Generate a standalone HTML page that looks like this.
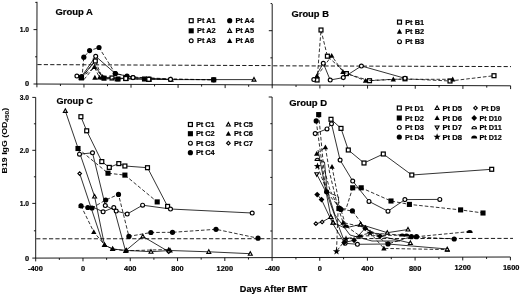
<!DOCTYPE html>
<html><head><meta charset="utf-8"><title>B19 IgG</title>
<style>
html,body{margin:0;padding:0;background:#fff;}
body{width:520px;height:294px;overflow:hidden;}
svg{display:block;filter:blur(0.4px);}
svg text{font-family:"Liberation Sans",sans-serif;font-weight:bold;fill:#000;stroke:#000;stroke-width:0.2px;}
</style></head><body>
<svg width="520" height="294" viewBox="0 0 520 294">
<rect width="520" height="294" fill="#fff"/>
<line x1="37.00" y1="1.80" x2="36.80" y2="84.00" stroke="#000" stroke-width="0.9" />
<line x1="272.20" y1="4.00" x2="272.20" y2="85.00" stroke="#000" stroke-width="0.9" />
<line x1="35.70" y1="97.40" x2="35.70" y2="258.10" stroke="#000" stroke-width="0.9" />
<line x1="272.10" y1="97.00" x2="272.10" y2="257.60" stroke="#000" stroke-width="0.9" />
<line x1="36.80" y1="84.00" x2="510.60" y2="85.80" stroke="#000" stroke-width="0.9" />
<line x1="35.70" y1="258.10" x2="272.10" y2="257.60" stroke="#000" stroke-width="0.9" />
<line x1="272.10" y1="257.60" x2="510.40" y2="257.00" stroke="#000" stroke-width="0.9" />
<line x1="33.50" y1="84.00" x2="36.90" y2="84.00" stroke="#000" stroke-width="0.9" />
<line x1="35.10" y1="56.80" x2="36.90" y2="56.80" stroke="#000" stroke-width="0.9" />
<line x1="33.50" y1="29.60" x2="36.90" y2="29.60" stroke="#000" stroke-width="0.9" />
<line x1="35.30" y1="2.40" x2="36.90" y2="2.40" stroke="#000" stroke-width="0.9" />
<line x1="270.40" y1="57.85" x2="272.20" y2="57.85" stroke="#000" stroke-width="0.9" />
<line x1="268.80" y1="30.70" x2="272.20" y2="30.70" stroke="#000" stroke-width="0.9" />
<line x1="270.60" y1="3.55" x2="272.20" y2="3.55" stroke="#000" stroke-width="0.9" />
<line x1="32.30" y1="258.10" x2="35.70" y2="258.10" stroke="#000" stroke-width="0.9" />
<line x1="33.90" y1="230.80" x2="35.70" y2="230.80" stroke="#000" stroke-width="0.9" />
<line x1="270.30" y1="231.00" x2="272.10" y2="231.00" stroke="#000" stroke-width="0.9" />
<line x1="32.30" y1="203.40" x2="35.70" y2="203.40" stroke="#000" stroke-width="0.9" />
<line x1="268.70" y1="204.50" x2="272.10" y2="204.50" stroke="#000" stroke-width="0.9" />
<line x1="33.90" y1="176.80" x2="35.70" y2="176.80" stroke="#000" stroke-width="0.9" />
<line x1="270.30" y1="177.40" x2="272.10" y2="177.40" stroke="#000" stroke-width="0.9" />
<line x1="32.30" y1="150.30" x2="35.70" y2="150.30" stroke="#000" stroke-width="0.9" />
<line x1="268.70" y1="150.30" x2="272.10" y2="150.30" stroke="#000" stroke-width="0.9" />
<line x1="33.90" y1="123.80" x2="35.70" y2="123.80" stroke="#000" stroke-width="0.9" />
<line x1="270.30" y1="123.70" x2="272.10" y2="123.70" stroke="#000" stroke-width="0.9" />
<line x1="32.30" y1="97.40" x2="35.70" y2="97.40" stroke="#000" stroke-width="0.9" />
<line x1="268.70" y1="97.00" x2="272.10" y2="97.00" stroke="#000" stroke-width="0.9" />
<line x1="36.90" y1="84.00" x2="36.90" y2="87.30" stroke="#000" stroke-width="0.9" />
<line x1="60.43" y1="84.10" x2="60.43" y2="86.00" stroke="#000" stroke-width="0.9" />
<line x1="83.96" y1="84.20" x2="83.96" y2="87.50" stroke="#000" stroke-width="0.9" />
<line x1="107.49" y1="84.30" x2="107.49" y2="86.20" stroke="#000" stroke-width="0.9" />
<line x1="131.02" y1="84.40" x2="131.02" y2="87.70" stroke="#000" stroke-width="0.9" />
<line x1="154.55" y1="84.50" x2="154.55" y2="86.40" stroke="#000" stroke-width="0.9" />
<line x1="178.08" y1="84.60" x2="178.08" y2="87.90" stroke="#000" stroke-width="0.9" />
<line x1="201.61" y1="84.70" x2="201.61" y2="86.60" stroke="#000" stroke-width="0.9" />
<line x1="225.14" y1="84.80" x2="225.14" y2="88.10" stroke="#000" stroke-width="0.9" />
<line x1="248.67" y1="84.90" x2="248.67" y2="86.80" stroke="#000" stroke-width="0.9" />
<line x1="272.20" y1="85.00" x2="272.20" y2="88.30" stroke="#000" stroke-width="0.9" />
<line x1="296.04" y1="85.08" x2="296.04" y2="86.98" stroke="#000" stroke-width="0.9" />
<line x1="319.88" y1="85.16" x2="319.88" y2="88.46" stroke="#000" stroke-width="0.9" />
<line x1="343.72" y1="85.24" x2="343.72" y2="87.14" stroke="#000" stroke-width="0.9" />
<line x1="367.56" y1="85.32" x2="367.56" y2="88.62" stroke="#000" stroke-width="0.9" />
<line x1="391.40" y1="85.40" x2="391.40" y2="87.30" stroke="#000" stroke-width="0.9" />
<line x1="415.24" y1="85.48" x2="415.24" y2="88.78" stroke="#000" stroke-width="0.9" />
<line x1="439.08" y1="85.56" x2="439.08" y2="87.46" stroke="#000" stroke-width="0.9" />
<line x1="462.92" y1="85.64" x2="462.92" y2="88.94" stroke="#000" stroke-width="0.9" />
<line x1="486.76" y1="85.72" x2="486.76" y2="87.62" stroke="#000" stroke-width="0.9" />
<line x1="510.60" y1="85.80" x2="510.60" y2="89.10" stroke="#000" stroke-width="0.9" />
<line x1="35.70" y1="258.10" x2="35.70" y2="261.40" stroke="#000" stroke-width="0.9" />
<line x1="59.34" y1="258.05" x2="59.34" y2="259.95" stroke="#000" stroke-width="0.9" />
<line x1="82.98" y1="258.00" x2="82.98" y2="261.30" stroke="#000" stroke-width="0.9" />
<line x1="106.62" y1="257.95" x2="106.62" y2="259.85" stroke="#000" stroke-width="0.9" />
<line x1="130.26" y1="257.90" x2="130.26" y2="261.20" stroke="#000" stroke-width="0.9" />
<line x1="153.90" y1="257.85" x2="153.90" y2="259.75" stroke="#000" stroke-width="0.9" />
<line x1="177.54" y1="257.80" x2="177.54" y2="261.10" stroke="#000" stroke-width="0.9" />
<line x1="201.18" y1="257.75" x2="201.18" y2="259.65" stroke="#000" stroke-width="0.9" />
<line x1="224.82" y1="257.70" x2="224.82" y2="261.00" stroke="#000" stroke-width="0.9" />
<line x1="248.46" y1="257.65" x2="248.46" y2="259.55" stroke="#000" stroke-width="0.9" />
<line x1="272.10" y1="257.60" x2="272.10" y2="260.90" stroke="#000" stroke-width="0.9" />
<line x1="295.93" y1="257.54" x2="295.93" y2="259.44" stroke="#000" stroke-width="0.9" />
<line x1="319.76" y1="257.48" x2="319.76" y2="260.78" stroke="#000" stroke-width="0.9" />
<line x1="343.59" y1="257.42" x2="343.59" y2="259.32" stroke="#000" stroke-width="0.9" />
<line x1="367.42" y1="257.36" x2="367.42" y2="260.66" stroke="#000" stroke-width="0.9" />
<line x1="391.25" y1="257.30" x2="391.25" y2="259.20" stroke="#000" stroke-width="0.9" />
<line x1="415.08" y1="257.24" x2="415.08" y2="260.54" stroke="#000" stroke-width="0.9" />
<line x1="438.91" y1="257.18" x2="438.91" y2="259.08" stroke="#000" stroke-width="0.9" />
<line x1="462.74" y1="257.12" x2="462.74" y2="260.42" stroke="#000" stroke-width="0.9" />
<line x1="486.57" y1="257.06" x2="486.57" y2="258.96" stroke="#000" stroke-width="0.9" />
<line x1="510.40" y1="257.00" x2="510.40" y2="260.30" stroke="#000" stroke-width="0.9" />
<line x1="37.4" y1="64.6" x2="270.5" y2="65.6" stroke="#000" stroke-width="0.9" stroke-dasharray="4.2 2.2"/>
<line x1="273.2" y1="65.8" x2="511" y2="66.6" stroke="#000" stroke-width="0.9" stroke-dasharray="4.2 2.2"/>
<line x1="36.2" y1="238.8" x2="270.3" y2="238.7" stroke="#000" stroke-width="0.9" stroke-dasharray="4.2 2.2"/>
<line x1="273.3" y1="238.7" x2="513" y2="238.4" stroke="#000" stroke-width="0.9" stroke-dasharray="4.2 2.2"/>
<text x="29.10" y="32.00" font-size="7.4" text-anchor="end" textLength="9.3" lengthAdjust="spacingAndGlyphs" >1.0</text>
<text x="29.10" y="86.40" font-size="7.4" text-anchor="end" >0</text>
<text x="29.10" y="99.80" font-size="7.4" text-anchor="end" textLength="9.3" lengthAdjust="spacingAndGlyphs" >3.0</text>
<text x="29.10" y="152.70" font-size="7.4" text-anchor="end" textLength="9.3" lengthAdjust="spacingAndGlyphs" >2.0</text>
<text x="29.10" y="205.80" font-size="7.4" text-anchor="end" textLength="9.3" lengthAdjust="spacingAndGlyphs" >1.0</text>
<text x="29.10" y="260.50" font-size="7.4" text-anchor="end" >0</text>
<text x="35.40" y="271.10" font-size="7.4" text-anchor="middle" >-400</text>
<text x="82.98" y="271.02" font-size="7.4" text-anchor="middle" >0</text>
<text x="130.26" y="270.94" font-size="7.4" text-anchor="middle" >400</text>
<text x="177.54" y="270.86" font-size="7.4" text-anchor="middle" >800</text>
<text x="224.82" y="270.78" font-size="7.4" text-anchor="middle" >1200</text>
<text x="272.60" y="270.80" font-size="7.4" text-anchor="middle" >-400</text>
<text x="319.76" y="270.70" font-size="7.4" text-anchor="middle" >0</text>
<text x="367.42" y="270.60" font-size="7.4" text-anchor="middle" >400</text>
<text x="415.08" y="270.50" font-size="7.4" text-anchor="middle" >800</text>
<text x="462.74" y="270.40" font-size="7.4" text-anchor="middle" >1200</text>
<text x="511.20" y="270.30" font-size="7.4" text-anchor="middle" >1600</text>
<text x="239.80" y="291.50" font-size="8.6" text-anchor="start" textLength="67.5" lengthAdjust="spacingAndGlyphs" >Days After BMT</text>
<text transform="translate(7.3,173.4) rotate(-90)" font-size="7.8" textLength="65.6" lengthAdjust="spacingAndGlyphs" style="stroke-width:0.05px">B19 IgG (OD<tspan font-size="5.8" dy="1.7">450</tspan><tspan dy="-1.7">)</tspan></text>
<text x="55.50" y="15.30" font-size="9.4" text-anchor="start" textLength="37.4" lengthAdjust="spacingAndGlyphs" >Group A</text>
<text x="291.50" y="17.30" font-size="9.4" text-anchor="start" textLength="37.4" lengthAdjust="spacingAndGlyphs" >Group B</text>
<text x="56.40" y="104.10" font-size="9.4" text-anchor="start" textLength="36.4" lengthAdjust="spacingAndGlyphs" >Group C</text>
<text x="289.20" y="105.50" font-size="9.4" text-anchor="start" textLength="37.9" lengthAdjust="spacingAndGlyphs" >Group D</text>
<rect x="189.25" y="18.75" width="3.9" height="3.9" fill="#fff" stroke="#000" stroke-width="1.25"/>
<text x="197.00" y="23.25" font-size="7" text-anchor="start" textLength="18.6" lengthAdjust="spacingAndGlyphs" >Pt A1</text>
<rect x="188.65" y="28.25" width="5.1" height="5.1" fill="#000"/>
<text x="197.00" y="33.35" font-size="7" text-anchor="start" textLength="18.6" lengthAdjust="spacingAndGlyphs" >Pt A2</text>
<circle cx="191.20" cy="40.80" r="1.95" fill="#fff" stroke="#000" stroke-width="1.15"/>
<text x="197.00" y="43.35" font-size="7" text-anchor="start" textLength="18.6" lengthAdjust="spacingAndGlyphs" >Pt A3</text>
<circle cx="229.70" cy="20.70" r="2.6" fill="#000"/>
<text x="235.40" y="23.25" font-size="7" text-anchor="start" textLength="18.6" lengthAdjust="spacingAndGlyphs" >Pt A4</text>
<polygon points="229.70,28.75 231.65,32.34 227.75,32.34" fill="#fff" stroke="#000" stroke-width="1.15" stroke-linejoin="miter"/>
<text x="235.40" y="33.35" font-size="7" text-anchor="start" textLength="18.6" lengthAdjust="spacingAndGlyphs" >Pt A5</text>
<polygon points="229.70,38.00 232.36,42.90 227.04,42.90" fill="#000"/>
<text x="235.40" y="43.35" font-size="7" text-anchor="start" textLength="18.6" lengthAdjust="spacingAndGlyphs" >Pt A6</text>
<rect x="397.55" y="20.15" width="3.9" height="3.9" fill="#fff" stroke="#000" stroke-width="1.25"/>
<text x="405.20" y="24.65" font-size="7" text-anchor="start" textLength="18.9" lengthAdjust="spacingAndGlyphs" >Pt B1</text>
<polygon points="399.50,28.80 402.16,33.70 396.84,33.70" fill="#000"/>
<text x="405.20" y="34.15" font-size="7" text-anchor="start" textLength="18.9" lengthAdjust="spacingAndGlyphs" >Pt B2</text>
<circle cx="399.50" cy="41.70" r="1.95" fill="#fff" stroke="#000" stroke-width="1.15"/>
<text x="405.20" y="44.25" font-size="7" text-anchor="start" textLength="18.9" lengthAdjust="spacingAndGlyphs" >Pt B3</text>
<rect x="188.45" y="122.55" width="3.9" height="3.9" fill="#fff" stroke="#000" stroke-width="1.25"/>
<text x="195.90" y="127.05" font-size="7" text-anchor="start" textLength="18.8" lengthAdjust="spacingAndGlyphs" >Pt C1</text>
<rect x="187.85" y="131.15" width="5.1" height="5.1" fill="#000"/>
<text x="195.90" y="136.25" font-size="7" text-anchor="start" textLength="18.8" lengthAdjust="spacingAndGlyphs" >Pt C2</text>
<circle cx="190.40" cy="143.20" r="1.95" fill="#fff" stroke="#000" stroke-width="1.15"/>
<text x="195.90" y="145.75" font-size="7" text-anchor="start" textLength="18.8" lengthAdjust="spacingAndGlyphs" >Pt C3</text>
<circle cx="190.40" cy="152.70" r="2.6" fill="#000"/>
<text x="195.90" y="155.25" font-size="7" text-anchor="start" textLength="18.8" lengthAdjust="spacingAndGlyphs" >Pt C4</text>
<polygon points="228.40,122.45 230.35,126.04 226.45,126.04" fill="#fff" stroke="#000" stroke-width="1.15" stroke-linejoin="miter"/>
<text x="234.00" y="127.05" font-size="7" text-anchor="start" textLength="19" lengthAdjust="spacingAndGlyphs" >Pt C5</text>
<polygon points="228.40,130.90 231.06,135.80 225.74,135.80" fill="#000"/>
<text x="234.00" y="136.25" font-size="7" text-anchor="start" textLength="19" lengthAdjust="spacingAndGlyphs" >Pt C6</text>
<polygon points="228.40,141.40 230.20,143.20 228.40,145.00 226.60,143.20" fill="#fff" stroke="#000" stroke-width="1.15" stroke-linejoin="miter"/>
<text x="234.00" y="145.75" font-size="7" text-anchor="start" textLength="19" lengthAdjust="spacingAndGlyphs" >Pt C7</text>
<rect x="397.35" y="106.05" width="3.9" height="3.9" fill="#fff" stroke="#000" stroke-width="1.25"/>
<text x="405.00" y="110.55" font-size="7" text-anchor="start" textLength="18.8" lengthAdjust="spacingAndGlyphs" >Pt D1</text>
<rect x="396.75" y="115.45" width="5.1" height="5.1" fill="#000"/>
<text x="405.00" y="120.55" font-size="7" text-anchor="start" textLength="18.8" lengthAdjust="spacingAndGlyphs" >Pt D2</text>
<circle cx="399.30" cy="127.50" r="1.95" fill="#fff" stroke="#000" stroke-width="1.15"/>
<text x="405.00" y="130.05" font-size="7" text-anchor="start" textLength="18.8" lengthAdjust="spacingAndGlyphs" >Pt D3</text>
<circle cx="399.30" cy="137.00" r="2.6" fill="#000"/>
<text x="405.00" y="139.55" font-size="7" text-anchor="start" textLength="18.8" lengthAdjust="spacingAndGlyphs" >Pt D4</text>
<polygon points="437.10,105.95 439.05,109.54 435.15,109.54" fill="#fff" stroke="#000" stroke-width="1.15" stroke-linejoin="miter"/>
<text x="442.50" y="110.55" font-size="7" text-anchor="start" textLength="19.5" lengthAdjust="spacingAndGlyphs" >Pt D5</text>
<polygon points="437.10,115.20 439.76,120.10 434.44,120.10" fill="#000"/>
<text x="442.50" y="120.55" font-size="7" text-anchor="start" textLength="19.5" lengthAdjust="spacingAndGlyphs" >Pt D6</text>
<polygon points="437.10,129.55 439.05,125.96 435.15,125.96" fill="#fff" stroke="#000" stroke-width="1.15" stroke-linejoin="miter"/>
<text x="442.50" y="130.05" font-size="7" text-anchor="start" textLength="19.5" lengthAdjust="spacingAndGlyphs" >Pt D7</text>
<polygon points="437.10,133.20 438.01,135.75 440.71,135.83 438.57,137.48 439.33,140.07 437.10,138.55 434.87,140.07 435.63,137.48 433.49,135.83 436.19,135.75" fill="#000"/>
<text x="442.50" y="139.55" font-size="7" text-anchor="start" textLength="19.5" lengthAdjust="spacingAndGlyphs" >Pt D8</text>
<polygon points="475.50,106.20 477.30,108.00 475.50,109.80 473.70,108.00" fill="#fff" stroke="#000" stroke-width="1.15" stroke-linejoin="miter"/>
<text x="481.20" y="110.55" font-size="7" text-anchor="start" textLength="18.8" lengthAdjust="spacingAndGlyphs" >Pt D9</text>
<polygon points="474.20,115.10 477.10,118.00 474.20,120.90 471.30,118.00" fill="#000"/>
<text x="479.50" y="120.55" font-size="7" text-anchor="start" textLength="22.3" lengthAdjust="spacingAndGlyphs" >Pt D10</text>
<path d="M472.00,128.70 A2.2,2.2 0 0 1 476.40,128.70 Z" fill="#fff" stroke="#000" stroke-width="1.15" stroke-linejoin="miter"/>
<text x="479.50" y="130.05" font-size="7" text-anchor="start" textLength="22.3" lengthAdjust="spacingAndGlyphs" >Pt D11</text>
<path d="M471.20,138.40 A3.0,3.0 0 0 1 477.20,138.40 Z" fill="#000"/>
<text x="479.50" y="139.55" font-size="7" text-anchor="start" textLength="22.3" lengthAdjust="spacingAndGlyphs" >Pt D12</text>
<polyline points="81.5,77.5 93.5,63.0 102.5,77.3 126.0,78.5 149.0,79.3 171.0,79.6 254.0,79.6" fill="none" stroke="#000" stroke-width="0.8" stroke-linejoin="round"/>
<polygon points="81.50,75.45 83.45,79.04 79.55,79.04" fill="#fff" stroke="#000" stroke-width="1.15" stroke-linejoin="miter"/>
<polygon points="102.50,75.25 104.45,78.84 100.55,78.84" fill="#fff" stroke="#000" stroke-width="1.15" stroke-linejoin="miter"/>
<polygon points="126.00,76.45 127.95,80.04 124.05,80.04" fill="#fff" stroke="#000" stroke-width="1.15" stroke-linejoin="miter"/>
<polygon points="149.00,77.25 150.95,80.84 147.05,80.84" fill="#fff" stroke="#000" stroke-width="1.15" stroke-linejoin="miter"/>
<polygon points="171.00,77.55 172.95,81.14 169.05,81.14" fill="#fff" stroke="#000" stroke-width="1.15" stroke-linejoin="miter"/>
<polygon points="254.00,77.55 255.95,81.14 252.05,81.14" fill="#fff" stroke="#000" stroke-width="1.15" stroke-linejoin="miter"/>
<polyline points="81.5,77.8 95.3,61.0 101.5,75.5 112.0,78.0 125.8,78.5 148.8,79.3" fill="none" stroke="#000" stroke-width="0.8" stroke-dasharray="3.6 2" stroke-linejoin="round"/>
<rect x="79.55" y="75.85" width="3.9" height="3.9" fill="#fff" stroke="#000" stroke-width="1.25"/>
<rect x="93.35" y="59.05" width="3.9" height="3.9" fill="#fff" stroke="#000" stroke-width="1.25"/>
<rect x="110.05" y="76.05" width="3.9" height="3.9" fill="#fff" stroke="#000" stroke-width="1.25"/>
<rect x="123.85" y="76.55" width="3.9" height="3.9" fill="#fff" stroke="#000" stroke-width="1.25"/>
<rect x="146.85" y="77.35" width="3.9" height="3.9" fill="#fff" stroke="#000" stroke-width="1.25"/>
<polyline points="76.9,76.0 81.5,76.6 95.7,56.3 115.3,73.5 133.0,77.5 170.5,79.3" fill="none" stroke="#000" stroke-width="0.8" stroke-linejoin="round"/>
<circle cx="76.90" cy="76.00" r="1.95" fill="#fff" stroke="#000" stroke-width="1.15"/>
<circle cx="81.50" cy="76.60" r="1.95" fill="#fff" stroke="#000" stroke-width="1.15"/>
<circle cx="95.70" cy="56.30" r="1.95" fill="#fff" stroke="#000" stroke-width="1.15"/>
<circle cx="115.30" cy="73.50" r="1.95" fill="#fff" stroke="#000" stroke-width="1.15"/>
<circle cx="133.00" cy="77.50" r="1.95" fill="#fff" stroke="#000" stroke-width="1.15"/>
<circle cx="170.50" cy="79.30" r="1.95" fill="#fff" stroke="#000" stroke-width="1.15"/>
<polyline points="82.0,78.0 83.8,57.2 89.6,50.6 99.0,47.5 115.3,73.5 127.0,76.0 137.0,77.3 172.0,79.0 213.7,79.8" fill="none" stroke="#000" stroke-width="0.8" stroke-dasharray="3.6 2" stroke-linejoin="round"/>
<circle cx="83.80" cy="57.20" r="2.6" fill="#000"/>
<circle cx="89.60" cy="50.60" r="2.6" fill="#000"/>
<circle cx="99.00" cy="47.50" r="2.6" fill="#000"/>
<circle cx="115.30" cy="73.50" r="2.6" fill="#000"/>
<circle cx="127.00" cy="76.00" r="2.6" fill="#000"/>
<circle cx="213.70" cy="79.80" r="2.6" fill="#000"/>
<polyline points="81.2,77.6 94.3,67.5 104.0,78.2 118.0,79.0 144.5,79.0 213.7,79.8" fill="none" stroke="#000" stroke-width="0.8" stroke-dasharray="3.6 2" stroke-linejoin="round"/>
<rect x="78.65" y="75.05" width="5.1" height="5.1" fill="#000"/>
<rect x="101.45" y="75.65" width="5.1" height="5.1" fill="#000"/>
<rect x="115.45" y="76.45" width="5.1" height="5.1" fill="#000"/>
<rect x="141.95" y="76.45" width="5.1" height="5.1" fill="#000"/>
<rect x="211.15" y="77.25" width="5.1" height="5.1" fill="#000"/>
<polyline points="84.0,79.5 94.3,67.0 99.5,77.5 108.0,79.0 117.0,79.2" fill="none" stroke="#000" stroke-width="0.8" stroke-dasharray="3.6 2" stroke-linejoin="round"/>
<polygon points="94.30,64.20 96.96,69.10 91.64,69.10" fill="#000"/>
<polygon points="99.50,74.70 102.16,79.60 96.84,79.60" fill="#000"/>
<polygon points="117.00,76.40 119.66,81.30 114.34,81.30" fill="#000"/>
<polygon points="94.90,74.80 97.56,79.70 92.24,79.70" fill="#000"/>
<circle cx="170.50" cy="79.40" r="1.95" fill="#fff" stroke="#000" stroke-width="1.15"/>
<circle cx="133.00" cy="77.60" r="1.95" fill="#fff" stroke="#000" stroke-width="1.15"/>
<rect x="123.85" y="76.55" width="3.9" height="3.9" fill="#fff" stroke="#000" stroke-width="1.25"/>
<rect x="146.85" y="77.35" width="3.9" height="3.9" fill="#fff" stroke="#000" stroke-width="1.25"/>
<polyline points="317.1,80.0 321.0,30.0 327.4,56.2 346.4,73.6 369.5,80.7 405.0,78.8 450.0,81.0 494.0,75.7" fill="none" stroke="#000" stroke-width="0.8" stroke-dasharray="3.6 2" stroke-linejoin="round"/>
<rect x="315.15" y="78.05" width="3.9" height="3.9" fill="#fff" stroke="#000" stroke-width="1.25"/>
<rect x="319.05" y="28.05" width="3.9" height="3.9" fill="#fff" stroke="#000" stroke-width="1.25"/>
<rect x="325.45" y="54.25" width="3.9" height="3.9" fill="#fff" stroke="#000" stroke-width="1.25"/>
<rect x="344.45" y="71.65" width="3.9" height="3.9" fill="#fff" stroke="#000" stroke-width="1.25"/>
<rect x="367.55" y="78.75" width="3.9" height="3.9" fill="#fff" stroke="#000" stroke-width="1.25"/>
<rect x="403.05" y="76.85" width="3.9" height="3.9" fill="#fff" stroke="#000" stroke-width="1.25"/>
<rect x="448.05" y="79.05" width="3.9" height="3.9" fill="#fff" stroke="#000" stroke-width="1.25"/>
<rect x="492.05" y="73.75" width="3.9" height="3.9" fill="#fff" stroke="#000" stroke-width="1.25"/>
<polyline points="317.1,76.0 331.7,55.7 342.9,71.9 365.5,80.7 393.3,79.3 452.7,79.3" fill="none" stroke="#000" stroke-width="0.8" stroke-dasharray="3.6 2" stroke-linejoin="round"/>
<polygon points="317.10,73.20 319.76,78.10 314.44,78.10" fill="#000"/>
<polygon points="331.70,52.90 334.36,57.80 329.04,57.80" fill="#000"/>
<polygon points="342.90,69.10 345.56,74.00 340.24,74.00" fill="#000"/>
<polygon points="365.50,77.90 368.16,82.80 362.84,82.80" fill="#000"/>
<polygon points="393.30,76.50 395.96,81.40 390.64,81.40" fill="#000"/>
<polygon points="452.70,76.50 455.36,81.40 450.04,81.40" fill="#000"/>
<polyline points="313.8,79.5 323.3,63.3 330.2,80.0 343.3,77.6 361.4,66.0 405.0,78.3" fill="none" stroke="#000" stroke-width="0.8" stroke-linejoin="round"/>
<circle cx="313.80" cy="79.50" r="1.95" fill="#fff" stroke="#000" stroke-width="1.15"/>
<circle cx="323.30" cy="63.30" r="1.95" fill="#fff" stroke="#000" stroke-width="1.15"/>
<circle cx="330.20" cy="80.00" r="1.95" fill="#fff" stroke="#000" stroke-width="1.15"/>
<circle cx="343.30" cy="77.60" r="1.95" fill="#fff" stroke="#000" stroke-width="1.15"/>
<circle cx="361.40" cy="66.00" r="1.95" fill="#fff" stroke="#000" stroke-width="1.15"/>
<circle cx="405.00" cy="78.30" r="1.95" fill="#fff" stroke="#000" stroke-width="1.15"/>
<polyline points="65.3,110.9 94.6,196.5 104.5,245.0 112.7,249.0 126.3,250.4 151.0,251.7 170.0,250.5 208.8,251.8 250.3,253.7" fill="none" stroke="#000" stroke-width="0.8" stroke-linejoin="round"/>
<polygon points="65.30,108.85 67.25,112.44 63.35,112.44" fill="#fff" stroke="#000" stroke-width="1.15" stroke-linejoin="miter"/>
<polygon points="94.60,194.45 96.55,198.04 92.65,198.04" fill="#fff" stroke="#000" stroke-width="1.15" stroke-linejoin="miter"/>
<polygon points="104.50,242.95 106.45,246.54 102.55,246.54" fill="#fff" stroke="#000" stroke-width="1.15" stroke-linejoin="miter"/>
<polygon points="112.70,246.95 114.65,250.54 110.75,250.54" fill="#fff" stroke="#000" stroke-width="1.15" stroke-linejoin="miter"/>
<polygon points="126.30,248.35 128.25,251.94 124.35,251.94" fill="#fff" stroke="#000" stroke-width="1.15" stroke-linejoin="miter"/>
<polygon points="151.00,249.65 152.95,253.24 149.05,253.24" fill="#fff" stroke="#000" stroke-width="1.15" stroke-linejoin="miter"/>
<polygon points="170.00,248.45 171.95,252.04 168.05,252.04" fill="#fff" stroke="#000" stroke-width="1.15" stroke-linejoin="miter"/>
<polygon points="208.80,249.75 210.75,253.34 206.85,253.34" fill="#fff" stroke="#000" stroke-width="1.15" stroke-linejoin="miter"/>
<polygon points="250.30,251.65 252.25,255.24 248.35,255.24" fill="#fff" stroke="#000" stroke-width="1.15" stroke-linejoin="miter"/>
<polyline points="79.7,173.6 102.8,243.0" fill="none" stroke="#000" stroke-width="0.8" stroke-linejoin="round"/>
<polygon points="79.70,171.80 81.50,173.60 79.70,175.40 77.90,173.60" fill="#fff" stroke="#000" stroke-width="1.15" stroke-linejoin="miter"/>
<polyline points="92.7,207.0 103.1,211.8 113.8,207.5 125.5,250.8 142.8,236.4 168.7,251.7" fill="none" stroke="#000" stroke-width="0.8" stroke-linejoin="round"/>
<polygon points="168.70,249.90 170.50,251.70 168.70,253.50 166.90,251.70" fill="#fff" stroke="#000" stroke-width="1.15" stroke-linejoin="miter"/>
<circle cx="103.10" cy="211.80" r="1.95" fill="#fff" stroke="#000" stroke-width="1.15"/>
<circle cx="113.80" cy="207.50" r="1.95" fill="#fff" stroke="#000" stroke-width="1.15"/>
<polygon points="142.80,234.35 144.75,237.94 140.85,237.94" fill="#fff" stroke="#000" stroke-width="1.15" stroke-linejoin="miter"/>
<polyline points="80.9,116.7 86.7,130.8 101.8,161.6 109.3,167.4 118.8,163.6 124.9,166.0 147.5,167.7 167.6,206.4" fill="none" stroke="#000" stroke-width="0.8" stroke-linejoin="round"/>
<rect x="78.95" y="114.75" width="3.9" height="3.9" fill="#fff" stroke="#000" stroke-width="1.25"/>
<rect x="84.75" y="128.85" width="3.9" height="3.9" fill="#fff" stroke="#000" stroke-width="1.25"/>
<rect x="99.85" y="159.65" width="3.9" height="3.9" fill="#fff" stroke="#000" stroke-width="1.25"/>
<rect x="107.35" y="165.45" width="3.9" height="3.9" fill="#fff" stroke="#000" stroke-width="1.25"/>
<rect x="116.85" y="161.65" width="3.9" height="3.9" fill="#fff" stroke="#000" stroke-width="1.25"/>
<rect x="122.95" y="164.05" width="3.9" height="3.9" fill="#fff" stroke="#000" stroke-width="1.25"/>
<rect x="145.55" y="165.75" width="3.9" height="3.9" fill="#fff" stroke="#000" stroke-width="1.25"/>
<rect x="165.65" y="204.45" width="3.9" height="3.9" fill="#fff" stroke="#000" stroke-width="1.25"/>
<polyline points="78.0,148.5 108.0,173.2 124.9,175.1 157.2,201.9" fill="none" stroke="#000" stroke-width="0.8" stroke-dasharray="3.6 2" stroke-linejoin="round"/>
<rect x="75.45" y="145.95" width="5.1" height="5.1" fill="#000"/>
<rect x="105.45" y="170.65" width="5.1" height="5.1" fill="#000"/>
<rect x="122.35" y="172.55" width="5.1" height="5.1" fill="#000"/>
<rect x="154.65" y="199.35" width="5.1" height="5.1" fill="#000"/>
<polyline points="79.5,154.2 92.5,152.8 105.3,205.5 116.2,211.0 127.2,214.0 142.6,205.2 170.5,209.0 252.2,213.0" fill="none" stroke="#000" stroke-width="0.8" stroke-linejoin="round"/>
<circle cx="79.50" cy="154.20" r="1.95" fill="#fff" stroke="#000" stroke-width="1.15"/>
<circle cx="92.50" cy="152.80" r="1.95" fill="#fff" stroke="#000" stroke-width="1.15"/>
<circle cx="105.30" cy="205.50" r="1.95" fill="#fff" stroke="#000" stroke-width="1.15"/>
<circle cx="116.20" cy="211.00" r="1.95" fill="#fff" stroke="#000" stroke-width="1.15"/>
<circle cx="127.20" cy="214.00" r="1.95" fill="#fff" stroke="#000" stroke-width="1.15"/>
<circle cx="142.60" cy="205.20" r="1.95" fill="#fff" stroke="#000" stroke-width="1.15"/>
<circle cx="170.50" cy="209.00" r="1.95" fill="#fff" stroke="#000" stroke-width="1.15"/>
<circle cx="252.20" cy="213.00" r="1.95" fill="#fff" stroke="#000" stroke-width="1.15"/>
<polyline points="81.0,205.8 93.8,232.0 104.7,245.0 112.5,249.0 125.5,250.8 168.7,249.5" fill="none" stroke="#000" stroke-width="0.8" stroke-dasharray="3.6 2" stroke-linejoin="round"/>
<polygon points="81.00,203.00 83.66,207.90 78.34,207.90" fill="#000"/>
<polygon points="93.80,229.20 96.46,234.10 91.14,234.10" fill="#000"/>
<polygon points="104.70,242.20 107.36,247.10 102.04,247.10" fill="#000"/>
<polygon points="112.50,246.20 115.16,251.10 109.84,251.10" fill="#000"/>
<polygon points="125.50,248.00 128.16,252.90 122.84,252.90" fill="#000"/>
<polygon points="168.70,246.70 171.36,251.60 166.04,251.60" fill="#000"/>
<polyline points="81.0,205.8 87.8,207.5 92.0,208.0 105.7,200.0 118.5,194.4 128.9,236.4 150.9,232.5 172.5,232.3 216.0,229.3 258.0,238.2" fill="none" stroke="#000" stroke-width="0.8" stroke-dasharray="3.6 2" stroke-linejoin="round"/>
<circle cx="81.00" cy="205.80" r="2.6" fill="#000"/>
<circle cx="87.80" cy="207.50" r="2.6" fill="#000"/>
<circle cx="92.00" cy="208.00" r="2.6" fill="#000"/>
<circle cx="105.70" cy="200.00" r="2.6" fill="#000"/>
<circle cx="118.50" cy="194.40" r="2.6" fill="#000"/>
<circle cx="128.90" cy="236.40" r="2.6" fill="#000"/>
<circle cx="150.90" cy="232.50" r="2.6" fill="#000"/>
<circle cx="172.50" cy="232.30" r="2.6" fill="#000"/>
<circle cx="216.00" cy="229.30" r="2.6" fill="#000"/>
<circle cx="258.00" cy="238.20" r="2.6" fill="#000"/>
<polyline points="331.0,119.3 341.0,128.4 348.3,150.0 364.0,163.0 383.3,154.0 411.8,175.0 491.7,169.3" fill="none" stroke="#000" stroke-width="0.8" stroke-linejoin="round"/>
<rect x="329.05" y="117.35" width="3.9" height="3.9" fill="#fff" stroke="#000" stroke-width="1.25"/>
<rect x="339.05" y="126.45" width="3.9" height="3.9" fill="#fff" stroke="#000" stroke-width="1.25"/>
<rect x="346.35" y="148.05" width="3.9" height="3.9" fill="#fff" stroke="#000" stroke-width="1.25"/>
<rect x="362.05" y="161.05" width="3.9" height="3.9" fill="#fff" stroke="#000" stroke-width="1.25"/>
<rect x="381.35" y="152.05" width="3.9" height="3.9" fill="#fff" stroke="#000" stroke-width="1.25"/>
<rect x="409.85" y="173.05" width="3.9" height="3.9" fill="#fff" stroke="#000" stroke-width="1.25"/>
<rect x="489.75" y="167.35" width="3.9" height="3.9" fill="#fff" stroke="#000" stroke-width="1.25"/>
<polyline points="315.2,133.6 327.0,128.9 331.5,123.8 340.1,160.1 352.7,181.0 369.0,201.4 388.0,211.2 404.9,199.6 439.8,199.4" fill="none" stroke="#000" stroke-width="0.8" stroke-linejoin="round"/>
<circle cx="315.20" cy="133.60" r="1.95" fill="#fff" stroke="#000" stroke-width="1.15"/>
<circle cx="327.00" cy="128.90" r="1.95" fill="#fff" stroke="#000" stroke-width="1.15"/>
<circle cx="331.50" cy="123.80" r="1.95" fill="#fff" stroke="#000" stroke-width="1.15"/>
<circle cx="340.10" cy="160.10" r="1.95" fill="#fff" stroke="#000" stroke-width="1.15"/>
<circle cx="352.70" cy="181.00" r="1.95" fill="#fff" stroke="#000" stroke-width="1.15"/>
<circle cx="369.00" cy="201.40" r="1.95" fill="#fff" stroke="#000" stroke-width="1.15"/>
<circle cx="388.00" cy="211.20" r="1.95" fill="#fff" stroke="#000" stroke-width="1.15"/>
<circle cx="404.90" cy="199.60" r="1.95" fill="#fff" stroke="#000" stroke-width="1.15"/>
<circle cx="439.80" cy="199.40" r="1.95" fill="#fff" stroke="#000" stroke-width="1.15"/>
<polyline points="318.7,114.6 323.6,167.0 329.8,189.5 338.9,208.5 346.0,209.0 352.7,187.8 361.2,187.8 391.0,201.0 409.4,204.4 460.6,209.9 483.0,213.0" fill="none" stroke="#000" stroke-width="0.8" stroke-dasharray="3.6 2" stroke-linejoin="round"/>
<rect x="316.15" y="112.05" width="5.1" height="5.1" fill="#000"/>
<rect x="336.35" y="205.95" width="5.1" height="5.1" fill="#000"/>
<rect x="350.15" y="185.25" width="5.1" height="5.1" fill="#000"/>
<rect x="358.65" y="185.25" width="5.1" height="5.1" fill="#000"/>
<rect x="388.45" y="198.45" width="5.1" height="5.1" fill="#000"/>
<rect x="406.85" y="201.85" width="5.1" height="5.1" fill="#000"/>
<rect x="458.05" y="207.35" width="5.1" height="5.1" fill="#000"/>
<rect x="480.45" y="210.45" width="5.1" height="5.1" fill="#000"/>
<polyline points="316.2,120.9 322.4,167.0 326.6,191.8 340.9,209.4 352.4,210.9 365.0,228.0 388.0,243.9 411.4,236.7 454.2,239.0" fill="none" stroke="#000" stroke-width="0.8" stroke-dasharray="3.6 2" stroke-linejoin="round"/>
<circle cx="316.20" cy="120.90" r="2.6" fill="#000"/>
<circle cx="326.60" cy="191.80" r="2.6" fill="#000"/>
<circle cx="340.90" cy="209.40" r="2.6" fill="#000"/>
<circle cx="352.40" cy="210.90" r="2.6" fill="#000"/>
<circle cx="388.00" cy="243.90" r="2.6" fill="#000"/>
<circle cx="411.40" cy="236.70" r="2.6" fill="#000"/>
<circle cx="454.20" cy="239.00" r="2.6" fill="#000"/>
<polyline points="318.0,150.0 330.9,217.0 333.1,222.6 345.0,228.0 360.6,224.4 387.3,232.7 408.0,229.5" fill="none" stroke="#000" stroke-width="0.8" stroke-linejoin="round"/>
<polygon points="330.90,214.95 332.85,218.54 328.95,218.54" fill="#fff" stroke="#000" stroke-width="1.15" stroke-linejoin="miter"/>
<polygon points="333.10,220.55 335.05,224.14 331.15,224.14" fill="#fff" stroke="#000" stroke-width="1.15" stroke-linejoin="miter"/>
<polygon points="360.60,222.35 362.55,225.94 358.65,225.94" fill="#fff" stroke="#000" stroke-width="1.15" stroke-linejoin="miter"/>
<polygon points="387.30,230.65 389.25,234.24 385.35,234.24" fill="#fff" stroke="#000" stroke-width="1.15" stroke-linejoin="miter"/>
<polygon points="408.00,227.45 409.95,231.04 406.05,231.04" fill="#fff" stroke="#000" stroke-width="1.15" stroke-linejoin="miter"/>
<polyline points="316.7,153.7 325.4,147.2 329.5,172.0 337.3,205.0 343.1,222.6 365.5,227.6 383.9,248.4 447.5,249.6" fill="none" stroke="#000" stroke-width="0.8" stroke-dasharray="3.6 2" stroke-linejoin="round"/>
<polygon points="316.70,150.90 319.36,155.80 314.04,155.80" fill="#000"/>
<polygon points="325.40,144.40 328.06,149.30 322.74,149.30" fill="#000"/>
<polygon points="343.10,219.80 345.76,224.70 340.44,224.70" fill="#000"/>
<polygon points="365.50,224.80 368.16,229.70 362.84,229.70" fill="#000"/>
<polygon points="383.90,245.60 386.56,250.50 381.24,250.50" fill="#000"/>
<polygon points="447.50,246.80 450.16,251.70 444.84,251.70" fill="#000"/>
<polyline points="316.8,174.3 327.0,194.0 337.0,222.0 345.1,243.3 357.4,244.3 388.0,244.0 447.5,249.0" fill="none" stroke="#000" stroke-width="0.8" stroke-linejoin="round"/>
<polygon points="316.80,176.35 318.75,172.76 314.85,172.76" fill="#fff" stroke="#000" stroke-width="1.15" stroke-linejoin="miter"/>
<circle cx="345.10" cy="243.30" r="1.95" fill="#fff" stroke="#000" stroke-width="1.15"/>
<circle cx="357.40" cy="244.30" r="1.95" fill="#fff" stroke="#000" stroke-width="1.15"/>
<polygon points="447.20,247.25 449.15,250.84 445.25,250.84" fill="#fff" stroke="#000" stroke-width="1.15" stroke-linejoin="miter"/>
<polyline points="317.5,166.3 327.0,191.5 338.6,197.0 336.5,251.4 346.0,239.0 370.0,233.0 402.2,235.1" fill="none" stroke="#000" stroke-width="0.8" stroke-dasharray="3.6 2" stroke-linejoin="round"/>
<polygon points="317.50,162.50 318.41,165.05 321.11,165.13 318.97,166.78 319.73,169.37 317.50,167.85 315.27,169.37 316.03,166.78 313.89,165.13 316.59,165.05" fill="#000"/>
<polygon points="336.50,247.60 337.41,250.15 340.11,250.23 337.97,251.88 338.73,254.47 336.50,252.95 334.27,254.47 335.03,251.88 332.89,250.23 335.59,250.15" fill="#000"/>
<polygon points="346.00,235.20 346.91,237.75 349.61,237.83 347.47,239.48 348.23,242.07 346.00,240.55 343.77,242.07 344.53,239.48 342.39,237.83 345.09,237.75" fill="#000"/>
<polygon points="370.00,229.20 370.91,231.75 373.61,231.83 371.47,233.48 372.23,236.07 370.00,234.55 367.77,236.07 368.53,233.48 366.39,231.83 369.09,231.75" fill="#000"/>
<polyline points="315.9,223.7 322.1,222.0 330.9,217.0" fill="none" stroke="#000" stroke-width="0.8" stroke-linejoin="round"/>
<polygon points="315.90,221.90 317.70,223.70 315.90,225.50 314.10,223.70" fill="#fff" stroke="#000" stroke-width="1.15" stroke-linejoin="miter"/>
<polygon points="322.10,220.20 323.90,222.00 322.10,223.80 320.30,222.00" fill="#fff" stroke="#000" stroke-width="1.15" stroke-linejoin="miter"/>
<polyline points="317.2,194.6 321.5,199.6 333.0,224.0 344.2,242.5 354.1,240.3 365.2,228.3 380.0,236.0 410.4,243.0" fill="none" stroke="#000" stroke-width="0.8" stroke-linejoin="round"/>
<polygon points="317.20,191.70 320.10,194.60 317.20,197.50 314.30,194.60" fill="#000"/>
<polygon points="321.50,196.70 324.40,199.60 321.50,202.50 318.60,199.60" fill="#000"/>
<polygon points="344.20,239.60 347.10,242.50 344.20,245.40 341.30,242.50" fill="#000"/>
<polygon points="354.10,237.40 357.00,240.30 354.10,243.20 351.20,240.30" fill="#000"/>
<polygon points="365.20,225.40 368.10,228.30 365.20,231.20 362.30,228.30" fill="#000"/>
<polygon points="380.00,233.10 382.90,236.00 380.00,238.90 377.10,236.00" fill="#000"/>
<polyline points="317.3,159.2 324.5,162.0 327.0,190.0 335.0,215.0 350.0,235.0 372.0,241.0 400.0,241.0" fill="none" stroke="#000" stroke-width="0.8" stroke-linejoin="round"/>
<path d="M315.10,160.40 A2.2,2.2 0 0 1 319.50,160.40 Z" fill="#fff" stroke="#000" stroke-width="1.15" stroke-linejoin="miter"/>
<polyline points="332.0,166.7 339.7,206.0 346.0,226.0 360.0,236.0 402.2,235.1 406.5,235.1 416.5,236.7 469.7,231.6" fill="none" stroke="#000" stroke-width="0.8" stroke-dasharray="3.6 2" stroke-linejoin="round"/>
<path d="M343.00,227.40 A3.0,3.0 0 0 1 349.00,227.40 Z" fill="#000"/>
<path d="M357.00,237.40 A3.0,3.0 0 0 1 363.00,237.40 Z" fill="#000"/>
<path d="M399.20,236.50 A3.0,3.0 0 0 1 405.20,236.50 Z" fill="#000"/>
<path d="M403.50,236.50 A3.0,3.0 0 0 1 409.50,236.50 Z" fill="#000"/>
<path d="M466.70,233.00 A3.0,3.0 0 0 1 472.70,233.00 Z" fill="#000"/>
<polygon points="332.00,163.90 334.66,168.80 329.34,168.80" fill="#000"/>
<circle cx="416.50" cy="236.70" r="2.6" fill="#000"/>
<polygon points="410.40,240.95 412.35,244.54 408.45,244.54" fill="#fff" stroke="#000" stroke-width="1.15" stroke-linejoin="miter"/>
<polygon points="330.90,214.95 332.85,218.54 328.95,218.54" fill="#fff" stroke="#000" stroke-width="1.15" stroke-linejoin="miter"/>
<polygon points="333.10,220.55 335.05,224.14 331.15,224.14" fill="#fff" stroke="#000" stroke-width="1.15" stroke-linejoin="miter"/>
<polygon points="360.60,222.35 362.55,225.94 358.65,225.94" fill="#fff" stroke="#000" stroke-width="1.15" stroke-linejoin="miter"/>
</svg>
</body></html>
